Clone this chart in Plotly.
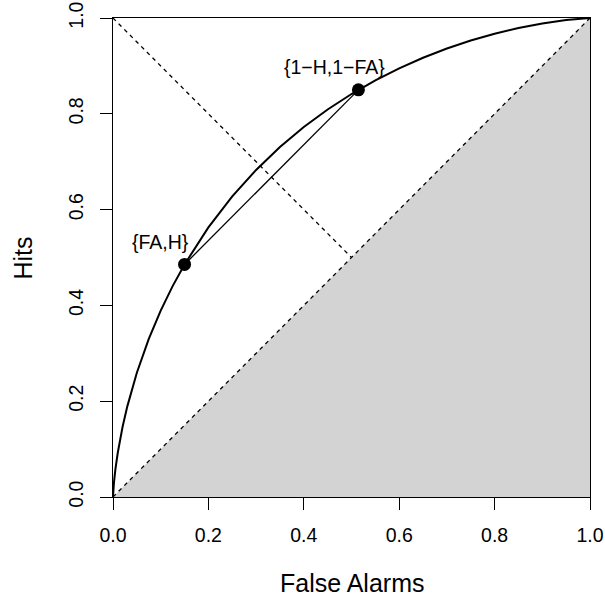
import plotly.graph_objects as go

# ROC curve
fa_curve = [0.0, 0.0005, 0.002, 0.005, 0.01, 0.02, 0.03, 0.05, 0.075, 0.1, 0.125, 0.15,
            0.2, 0.25, 0.3, 0.35, 0.4, 0.45, 0.5, 0.55, 0.6, 0.65, 0.7, 0.75, 0.8,
            0.85, 0.9, 0.95, 0.98, 1.0]
hit_curve = [0.0, 0.011, 0.0302, 0.0575, 0.0924, 0.146, 0.1892, 0.2595, 0.3301, 0.3891,
             0.4403, 0.4855, 0.5629, 0.6276, 0.6828, 0.7306, 0.7724, 0.809, 0.8413,
             0.8699, 0.895, 0.917, 0.9363, 0.953, 0.9672, 0.9791, 0.9887, 0.9959,
             0.99887, 1.0]

# highlighted points
pt_fa = [0.15, 0.5145]
pt_hit = [0.4855, 0.85]
pt_labels = ["{FA,H}", "{1\u2212H,1\u2212FA}"]
label_x = [0.10, 0.464]
label_y = [0.533, 0.898]

# reference lines
chance_x = [0, 1]
chance_y = [0, 1]
anti_x = [0, 0.5]
anti_y = [1, 0.5]
shade_x = [0, 1, 1, 0]
shade_y = [0, 0, 1, 0]

tick_vals = [0, 0.2, 0.4, 0.6, 0.8, 1.0]
tick_text = ["0.0", "0.2", "0.4", "0.6", "0.8", "1.0"]

FONT = "Liberation Sans, Arial, sans-serif"

fig = go.Figure()
fig.add_trace(go.Scatter(x=shade_x, y=shade_y, fill="toself", fillcolor="#D3D3D3",
                         mode="none", hoverinfo="skip"))
fig.add_trace(go.Scatter(x=chance_x, y=chance_y, mode="lines",
                         line=dict(color="black", width=1.3, dash="4px,4px")))
fig.add_trace(go.Scatter(x=anti_x, y=anti_y, mode="lines",
                         line=dict(color="black", width=1.3, dash="4px,4px")))
fig.add_trace(go.Scatter(x=fa_curve, y=hit_curve, mode="lines",
                         line=dict(color="black", width=2)))
fig.add_trace(go.Scatter(x=pt_fa, y=pt_hit, mode="lines",
                         line=dict(color="black", width=1.3)))
fig.add_trace(go.Scatter(x=pt_fa, y=pt_hit, mode="markers",
                         marker=dict(color="black", size=13)))

for lx, ly, t in zip(label_x, label_y, pt_labels):
    fig.add_annotation(x=lx, y=ly, text=t, showarrow=False, xref="x", yref="y",
                       xanchor="center", yanchor="middle",
                       font=dict(family=FONT, size=19.5, color="black"))

fig.add_annotation(x=0.5, y=-0.1795, xref="paper", yref="paper", text="False Alarms",
                   showarrow=False, xanchor="center", yanchor="middle",
                   font=dict(family=FONT, size=25, color="black"))
fig.add_annotation(x=-0.1887, y=0.5, xref="paper", yref="paper", text="Hits",
                   showarrow=False, xanchor="center", yanchor="middle", textangle=-90,
                   font=dict(family=FONT, size=25, color="black"))

axis_common = dict(range=[0, 1], tickvals=tick_vals, ticktext=tick_text,
                   ticks="outside", ticklen=12, tickwidth=1.3, tickcolor="black",
                   showline=True, linecolor="black", linewidth=1.3, mirror=True,
                   showgrid=False, zeroline=False, automargin=False,
                   tickfont=dict(family=FONT, size=19.5, color="black"))

fig.update_xaxes(**axis_common, ticklabelstandoff=8)
fig.update_yaxes(**axis_common, tickangle=-90, ticklabelstandoff=9)

fig.update_layout(width=605, height=601, showlegend=False,
                  plot_bgcolor="white", paper_bgcolor="white",
                  margin=dict(l=113, r=15, t=18, b=104))

fig.write_html("out.html")
